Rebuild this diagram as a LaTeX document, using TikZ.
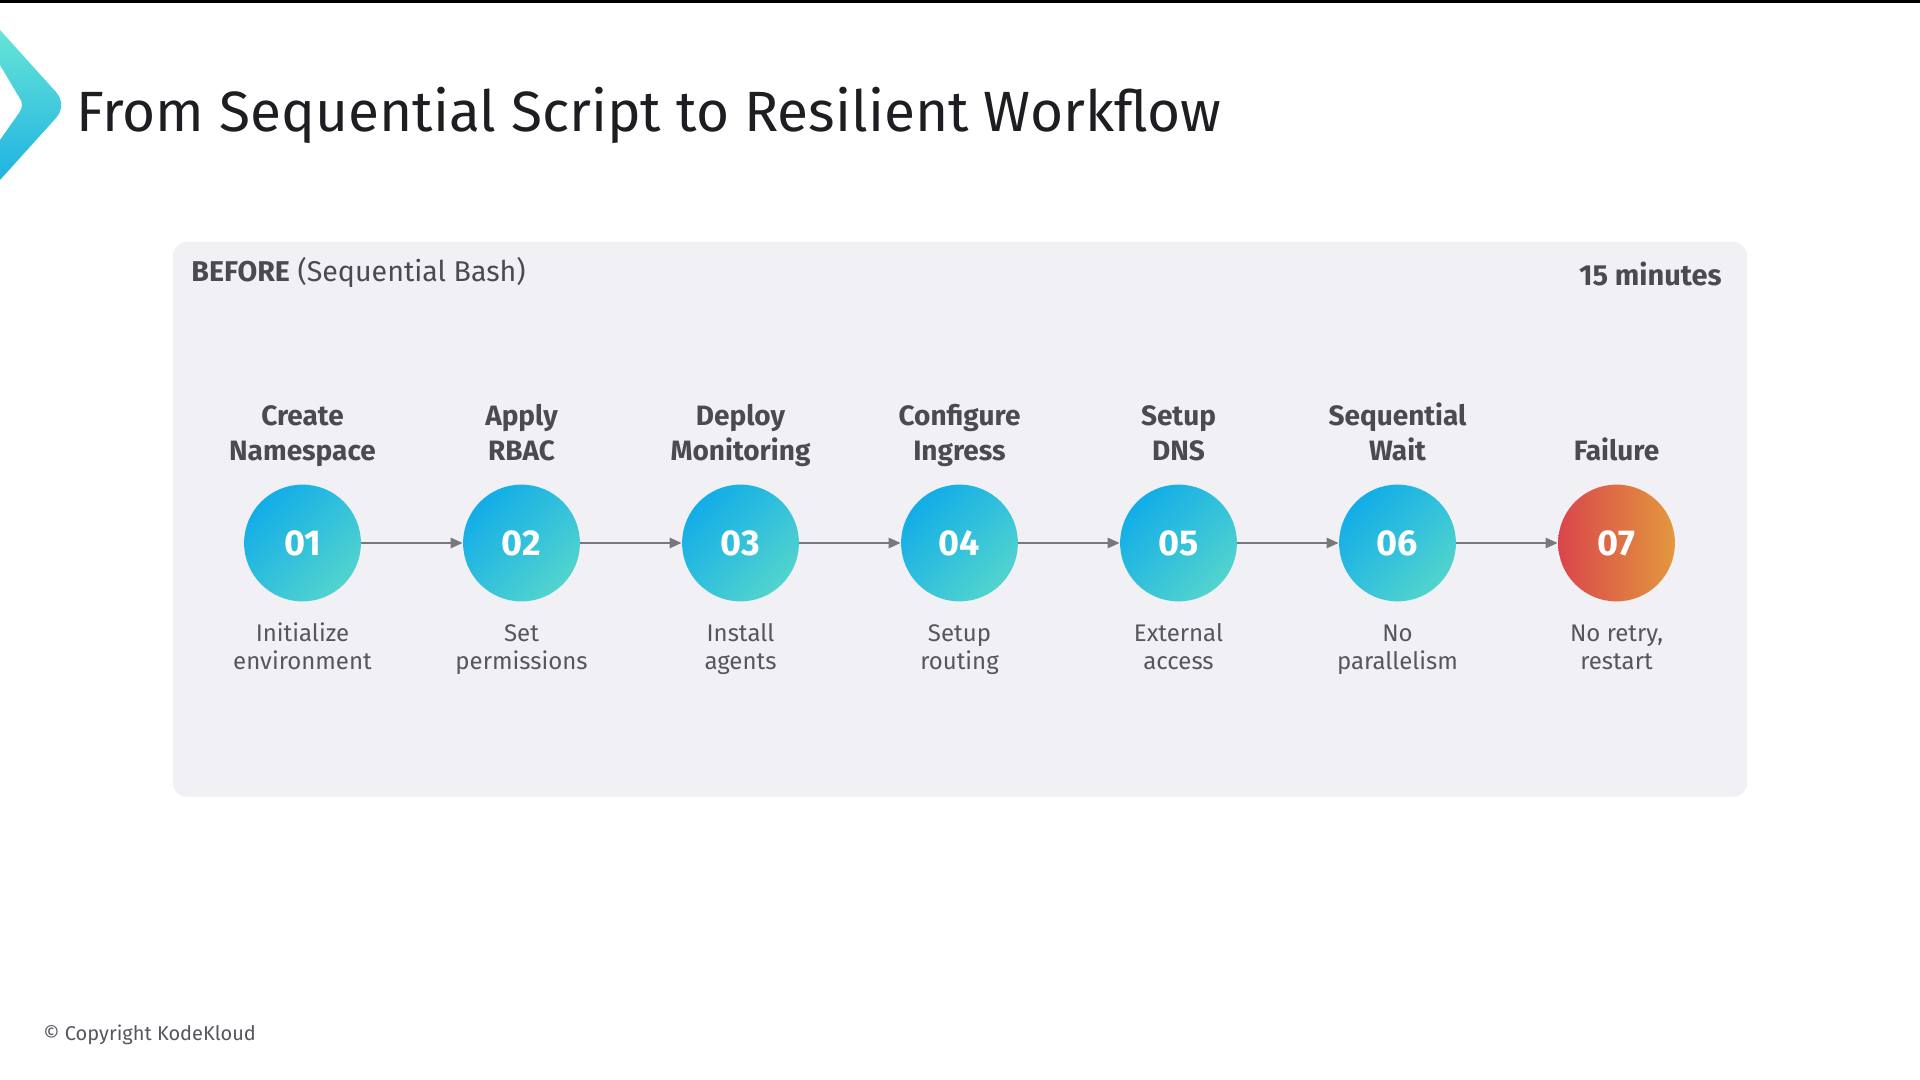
\documentclass[tikz,border=0pt]{standalone}
\usepackage{fontspec}
\setmainfont{Fira Sans}
\usepackage{xcolor}
\usetikzlibrary{positioning,arrows.meta}

\definecolor{inkdark}{HTML}{1E1E22}
\definecolor{inkgray}{HTML}{4A4A52}
\definecolor{notegray}{HTML}{56565E}
\definecolor{panelbg}{HTML}{F1F0F4}
\definecolor{flowgray}{HTML}{77777D}
\definecolor{dotblue}{HTML}{12ADE8}
\definecolor{dotteal}{HTML}{52D4CE}
\definecolor{failred}{HTML}{DA454B}
\definecolor{failorange}{HTML}{E3983E}
\definecolor{logoteal}{HTML}{66E4D6}
\definecolor{logoblue}{HTML}{1FB3E2}

\begin{document}
\begin{tikzpicture}[
    x=0.5pt, y=-0.5pt,
    panel/.style={
      fill=panelbg, rounded corners=7pt, inner sep=0pt,
      minimum width=787pt, minimum height=277.5pt
    },
    stepdot/.style={
      circle, minimum size=58.4pt, inner sep=0pt,
      top color=dotblue, bottom color=dotteal, shading angle=45,
      text=white, font=\fontsize{18}{20}\selectfont\bfseries
    },
    faildot/.style={stepdot, left color=failred, right color=failorange},
    steptitle/.style={
      align=center, inner sep=0pt, text depth=0pt, text=inkgray,
      font=\fontsize{14}{17.5}\selectfont\bfseries
    },
    stepnote/.style={
      align=center, inner sep=0pt, text depth=0pt, text=notegray,
      font=\fontsize{12}{14}\selectfont
    },
    flow/.style={-{Triangle[length=6pt,width=5pt]}, line width=1.3pt, flowgray}
  ]
    \useasboundingbox (0,0) rectangle (1920,1080);
    \fill[white] (0,0) rectangle (1920,1080);
    \fill[black] (0,0) rectangle (1920,3);

    % logo and title
    \shade[top color=logoteal, bottom color=logoblue]
      (0,30) -- (56,92) .. controls (63,100) and (63,110) .. (56,118)
      -- (0,180) -- (0,140) -- (19,113) .. controls (23,108) and (23,102) .. (19,97)
      -- (0,65) -- cycle;
    \node[anchor=base west, inner sep=0pt, text=inkdark,
      font=\fontsize{28.4}{34}\selectfont] (title) at (76,132)
      {From Sequential Script to Resilient Workflow};

    % panel
    \node[panel] (before) at (960,519.5) {};
    \node[anchor=base west, inner sep=0pt, text=inkgray,
      font=\fontsize{14.3}{16}\selectfont] (beforehead) at (191,282)
      {\textbf{BEFORE} (Sequential Bash)};
    \node[anchor=base east, inner sep=0pt, text=inkgray,
      font=\fontsize{14.5}{16}\selectfont\bfseries] (duration) at (1722,286)
      {15 minutes};

    % steps
    \node[stepdot] (create) at (302.5,543) {01};
    \node[stepdot, right=50.7pt of create] (rbac) {02};
    \node[stepdot, right=50.7pt of rbac] (monitor) {03};
    \node[stepdot, right=50.7pt of monitor] (ingress) {04};
    \node[stepdot, right=50.7pt of ingress] (dns) {05};
    \node[stepdot, right=50.7pt of dns] (wait) {06};
    \node[faildot, right=50.7pt of wait] (failure) {07};

    \node[steptitle, above=11.5pt of create] (createtitle) {Create\\Namespace};
    \node[steptitle, above=11.5pt of rbac] (rbactitle) {Apply\\RBAC};
    \node[steptitle, above=11.5pt of monitor] (monitortitle) {Deploy\\Monitoring};
    \node[steptitle, above=11.5pt of ingress] (ingresstitle) {Configure\\Ingress};
    \node[steptitle, above=11.5pt of dns] (dnstitle) {Setup\\DNS};
    \node[steptitle, above=11.5pt of wait] (waittitle) {Sequential\\Wait};
    \node[steptitle, above=11.5pt of failure] (failuretitle) {Failure};

    \node[stepnote, below=34pt of create, anchor=south] (createnote) {Initialize\\environment};
    \node[stepnote, below=34pt of rbac, anchor=south] (rbacnote) {Set\\permissions};
    \node[stepnote, below=34pt of monitor, anchor=south] (monitornote) {Install\\agents};
    \node[stepnote, below=34pt of ingress, anchor=south] (ingressnote) {Setup\\routing};
    \node[stepnote, below=34pt of dns, anchor=south] (dnsnote) {External\\access};
    \node[stepnote, below=34pt of wait, anchor=south] (waitnote) {No\\parallelism};
    \node[stepnote, below=34pt of failure, anchor=south] (failurenote) {No retry,\\restart};

    \draw[flow] (create) -- (rbac);
    \draw[flow] (rbac) -- (monitor);
    \draw[flow] (monitor) -- (ingress);
    \draw[flow] (ingress) -- (dns);
    \draw[flow] (dns) -- (wait);
    \draw[flow] (wait) -- (failure);

    \node[anchor=base west, inner sep=0pt, text=notegray,
      font=\fontsize{10}{12}\selectfont] (copyright) at (43,1040)
      {© Copyright KodeKloud};
  \end{tikzpicture}
\end{document}
